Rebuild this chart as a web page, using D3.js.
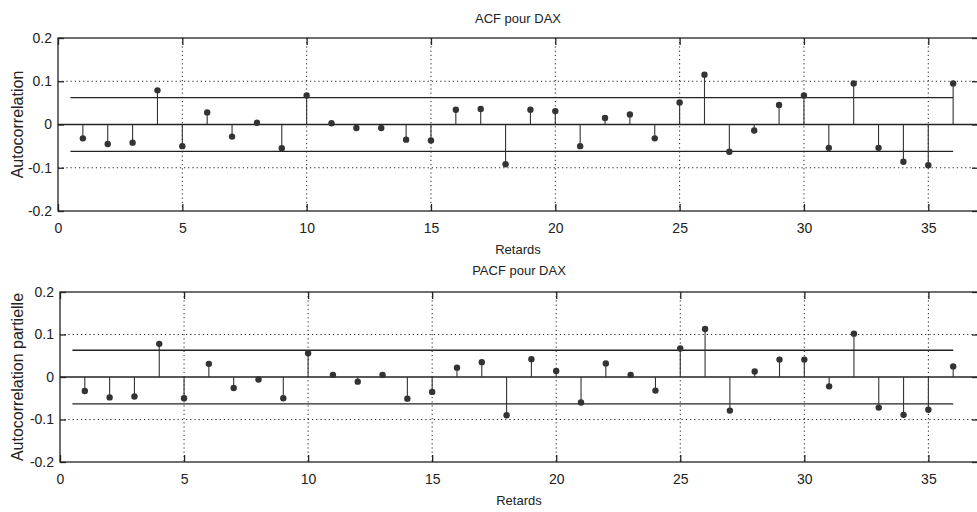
<!DOCTYPE html>
<html lang="fr">
<head>
  <meta charset="UTF-8">
  <title>ACF / PACF pour DAX</title>
  <script src="https://d3js.org/d3.v7.min.js"></script>
  <style>
    body { margin: 0; background: #fff; }
    svg { display: block; font-family: "Liberation Sans", Arial, sans-serif; }
    text { fill: #222; }
  </style>
</head>
<body>
  <svg id="chart" width="977" height="512"></svg>

  <script>
    // retards 1..36
    const lags = d3.range(1, 37);

    const acfValues = [
      -0.032, -0.045, -0.042, 0.079, -0.050, 0.028, -0.028, 0.004, -0.055, 0.067,
      0.003, -0.008, -0.008, -0.035, -0.037, 0.034, 0.036, -0.092, 0.034, 0.031,
      -0.050, 0.015, 0.023, -0.032, 0.051, 0.115, -0.063, -0.014, 0.045, 0.067,
      -0.054, 0.095, -0.054, -0.086, -0.094, 0.095
    ];

    const pacfValues = [
      -0.033, -0.048, -0.046, 0.078, -0.050, 0.031, -0.026, -0.006, -0.050, 0.056,
      0.005, -0.011, 0.005, -0.051, -0.035, 0.022, 0.035, -0.090, 0.042, 0.014,
      -0.060, 0.032, 0.005, -0.032, 0.067, 0.113, -0.079, 0.013, 0.041, 0.041,
      -0.022, 0.102, -0.072, -0.089, -0.077, 0.025
    ];

    // bornes de confiance
    const acfBound = 0.062;
    const pacfBound = 0.063;

    const xTicks = [0, 5, 10, 15, 20, 25, 30, 35];
    const yTicks = [-0.2, -0.1, 0, 0.1, 0.2];
    const yTickLabels = ['-0.2', '-0.1', '0', '0.1', '0.2'];

    const svg = d3.select('#chart');
    const ink = '#222';

    function drawPanel(opts) {
      const { values, bound, title, yLabel, top, bottom, left, titleY, yLabelX } = opts;
      const right = 978;

      const x = d3.scaleLinear().domain([0, 37]).range([left, right]);
      const y = d3.scaleLinear().domain([-0.2, 0.2]).range([bottom, top]);

      const g = svg.append('g');

      // grille pointillée
      g.selectAll('line.vgrid')
        .data(xTicks.filter(d => d > 0))
        .enter().append('line')
        .attr('x1', d => x(d)).attr('x2', d => x(d))
        .attr('y1', top).attr('y2', bottom)
        .attr('stroke', ink).attr('stroke-width', 1)
        .attr('stroke-dasharray', '1.2,3');

      g.selectAll('line.hgrid')
        .data([-0.1, 0.1])
        .enter().append('line')
        .attr('x1', left).attr('x2', right)
        .attr('y1', d => y(d)).attr('y2', d => y(d))
        .attr('stroke', ink).attr('stroke-width', 1)
        .attr('stroke-dasharray', '1.2,3');

      // cadre
      g.append('rect')
        .attr('x', left).attr('y', top)
        .attr('width', right - left).attr('height', bottom - top)
        .attr('fill', 'none').attr('stroke', ink).attr('stroke-width', 1.3);

      // graduations vers l'intérieur
      const bottomAxis = d3.axisBottom(x).tickValues(xTicks).tickSizeInner(-7).tickSizeOuter(0).tickFormat(d3.format('d')).tickPadding(12);
      const topAxis = d3.axisTop(x).tickValues(xTicks).tickSizeInner(-7).tickSizeOuter(0).tickFormat('');
      const leftAxis = d3.axisLeft(y).tickValues(yTicks).tickSizeInner(-6).tickSizeOuter(0)
        .tickFormat((d, i) => yTickLabels[i]).tickPadding(6);
      const rightAxis = d3.axisRight(y).tickValues(yTicks).tickSizeInner(-6).tickSizeOuter(0).tickFormat('');

      [
        [bottomAxis, `translate(0,${bottom})`],
        [topAxis, `translate(0,${top})`],
        [leftAxis, `translate(${left},0)`],
        [rightAxis, `translate(${right},0)`]
      ].forEach(([axis, tr]) => {
        const a = g.append('g').attr('transform', tr).call(axis);
        a.select('.domain').remove();
        a.selectAll('line').attr('stroke', ink).attr('stroke-width', 1.3);
        a.selectAll('text').attr('fill', ink).style('font-size', '14px')
          .style('font-family', '"Liberation Sans", Arial, sans-serif');
      });

      // ligne zéro
      g.append('line')
        .attr('x1', left).attr('x2', right)
        .attr('y1', y(0)).attr('y2', y(0))
        .attr('stroke', ink).attr('stroke-width', 1.3);

      // bornes
      [bound, -bound].forEach(b => {
        g.append('line')
          .attr('x1', x(0.5)).attr('x2', x(36))
          .attr('y1', y(b)).attr('y2', y(b))
          .attr('stroke', ink).attr('stroke-width', 1.3);
      });

      // tiges
      g.selectAll('line.stem')
        .data(values)
        .enter().append('line')
        .attr('class', 'stem')
        .attr('x1', (d, i) => x(lags[i])).attr('x2', (d, i) => x(lags[i]))
        .attr('y1', y(0)).attr('y2', d => y(d))
        .attr('stroke', '#333').attr('stroke-width', 1.1);

      g.selectAll('circle.mark')
        .data(values)
        .enter().append('circle')
        .attr('class', 'mark')
        .attr('cx', (d, i) => x(lags[i]))
        .attr('cy', d => y(d))
        .attr('r', 3.2)
        .attr('fill', '#333');

      // titres
      g.append('text')
        .attr('x', (left + right) / 2).attr('y', titleY)
        .attr('text-anchor', 'middle').style('font-size', '13px')
        .text(title);

      g.append('text')
        .attr('x', (left + right) / 2).attr('y', bottom + 43)
        .attr('text-anchor', 'middle').style('font-size', '13px')
        .text('Retards');

      g.append('text')
        .attr('transform', `translate(${yLabelX},${(top + bottom) / 2}) rotate(-90)`)
        .attr('text-anchor', 'middle').style('font-size', '16px')
        .text(yLabel);
    }

    drawPanel({
      values: acfValues, bound: acfBound,
      title: 'ACF pour DAX', yLabel: 'Autocorrelation',
      top: 38, bottom: 211, left: 58, titleY: 23, yLabelX: 23
    });

    drawPanel({
      values: pacfValues, bound: pacfBound,
      title: 'PACF pour DAX', yLabel: 'Autocorrelation partielle',
      top: 292, bottom: 462, left: 60, titleY: 275, yLabelX: 23
    });
  </script>
</body>
</html>
